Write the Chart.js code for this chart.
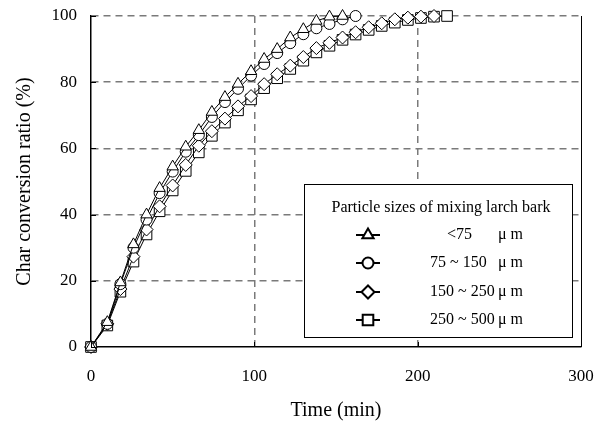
<!DOCTYPE html>
<html>
<head>
<meta charset="utf-8">
<script src="https://cdn.jsdelivr.net/npm/chart.js@4/dist/chart.umd.min.js"></script>
<style>
  html, body { margin: 0; padding: 0; background: #fff; }
  #wrap { width: 599px; height: 430px; position: relative; }
</style>
</head>
<body>
<div id="wrap"><canvas id="c" width="599" height="430"></canvas></div>
<script>
// ---- data ----
const times = [0,10,18,26,34,42,50,58,66,74,82,90,98,106,114,122,130,138,146,154,162,170,178,186,194,202,210,218];
const seriesLabels = ['<75', '75 ~ 150', '150 ~ 250', '250 ~ 500'];
const unitLabel = 'μ m';
const legendTitle = 'Particle sizes of mixing larch bark';
const below75 = [0,7.5,19.5,31,40,48,54.5,60.5,65.5,71,75.5,79.5,83.3,87,90,93.5,96,98.5,99.8,100];
const from75to150 = [0,7,19,30,38.5,46.5,53,59,64,69.5,74,78,82,85.5,88.8,91.8,94.5,96.3,97.6,99,100];
const from150to250 = [0,7,17.5,27.3,35.5,42.5,48.8,55,60.8,65.2,69,72.7,75.8,79.4,82.4,85,87.6,90.3,91.9,93.5,95.1,96.6,97.8,99,99.5,99.8,100];
const from250to500 = [0,6.5,16.7,25.8,34,41,47.3,53.2,58.8,63.8,67.8,71.5,74.8,78.2,81.2,84,86.5,89,91,92.8,94.4,95.8,97,98,98.8,99.4,99.8,100];
const xTicks = [0,100,200,300];
const yTicks = [0,20,40,60,80,100];

const FONT = "'Liberation Serif', 'Times New Roman', serif";
const pts = arr => arr.map((v, i) => ({x: times[i], y: v}));

const styles = [
  {pointStyle: 'triangle', radius: 6.5},
  {pointStyle: 'circle', radius: 5.5},
  {pointStyle: 'rectRot', radius: 6.5},
  {pointStyle: 'rect', radius: 7.5}
];
const values = [below75, from75to150, from150to250, from250to500];

const datasets = values.map((v, i) => ({
  label: seriesLabels[i],
  data: pts(v),
  borderColor: '#000',
  borderWidth: 1,
  backgroundColor: '#fff',
  pointStyle: styles[i].pointStyle,
  pointRadius: styles[i].radius,
  pointBorderWidth: 1,
  pointBorderColor: '#000',
  pointBackgroundColor: '#fff',
  tension: 0,
  fill: false,
  clip: false
}));

const legendPlugin = {
  id: 'boxLegend',
  afterDraw(chart) {
    const ctx = chart.ctx;
    const L = 304, T = 184, R = 572, B = 337;
    ctx.save();
    ctx.fillStyle = '#fff';
    ctx.fillRect(L, T, R - L, B - T);
    ctx.strokeStyle = '#000';
    ctx.lineWidth = 1;
    ctx.strokeRect(L + 0.5, T + 0.5, R - L, B - T);
    ctx.fillStyle = '#000';
    ctx.font = '16px ' + FONT;
    ctx.textBaseline = 'middle';
    ctx.textAlign = 'center';
    ctx.fillText(legendTitle, (L + R) / 2 + 3, 208);
    const rowsY = [235, 263, 292, 320];
    const mx = 368;
    chart.data.datasets.forEach((ds, i) => {
      const y = rowsY[i];
      ctx.strokeStyle = '#000';
      ctx.lineWidth = 2;
      ctx.beginPath();
      ctx.moveTo(mx - 12, y); ctx.lineTo(mx + 12, y);
      ctx.stroke();
      ctx.fillStyle = '#fff';
      ctx.strokeStyle = '#000';
      ctx.lineWidth = 2;
      Chart.helpers.drawPoint(ctx, {pointStyle: ds.pointStyle, radius: ds.pointRadius, rotation: 0, borderWidth: 2}, mx, y);
      ctx.fillStyle = '#000';
      ctx.textAlign = 'left';
      ctx.fillText(ds.label, i === 0 ? 447 : 430, y);
      ctx.fillText(unitLabel, 498, y);
    });
    ctx.restore();
  }
};

const innerTicks = {
  id: 'innerTicks',
  afterDatasetsDraw(chart) {
    const ctx = chart.ctx;
    const xs = chart.scales.x, ys = chart.scales.y;
    ctx.save();
    ctx.strokeStyle = '#000';
    ctx.lineWidth = 1;
    xTicks.forEach(t => {
      const px = Math.round(xs.getPixelForValue(t)) + 0.5;
      ctx.beginPath(); ctx.moveTo(px, ys.bottom); ctx.lineTo(px, ys.bottom - 5); ctx.stroke();
    });
    yTicks.forEach(t => {
      const py = Math.round(ys.getPixelForValue(t)) + 0.5;
      ctx.beginPath(); ctx.moveTo(xs.left, py); ctx.lineTo(xs.left + 5, py); ctx.stroke();
    });
    const rx = Math.round(xs.getPixelForValue(300)) + 0.5;
    ctx.beginPath(); ctx.moveTo(rx, ys.top); ctx.lineTo(rx, ys.bottom); ctx.stroke();
    ctx.restore();
  }
};

new Chart(document.getElementById('c'), {
  type: 'line',
  data: { datasets },
  options: {
    responsive: false,
    animation: false,
    devicePixelRatio: 1,
    layout: { padding: { left: 0, right: 18, top: 16, bottom: 0 } },
    plugins: { legend: { display: false }, tooltip: { enabled: false } },
    scales: {
      x: {
        type: 'linear', min: 0, max: 300,
        afterFit(s) { s.height = 83; s.paddingLeft = 0; s.paddingRight = 0; },
        afterBuildTicks(s) { s.ticks = xTicks.map(v => ({value: v})); },
        ticks: { color: '#000', font: { family: FONT, size: 17 }, padding: 19, maxRotation: 0 },
        grid: {
          drawTicks: false,
          color: ctx => (ctx.tick && (ctx.tick.value === 0 || ctx.tick.value === 300)) ? 'rgba(0,0,0,0)' : '#7a7a7a',
          lineWidth: 1.5
        },
        border: { display: true, color: '#000', width: 1.5, dash: ctx => ctx.type === 'tick' ? [7, 5] : [] },
        title: { display: true, text: 'Time (min)', color: '#000', font: { family: FONT, size: 20 }, padding: { top: 0, bottom: 7 } }
      },
      y: {
        type: 'linear', min: 0, max: 100,
        afterFit(s) { s.width = 91; s.paddingTop = 0; s.paddingBottom = 0; },
        afterBuildTicks(s) { s.ticks = yTicks.map(v => ({value: v})); },
        ticks: { color: '#000', font: { family: FONT, size: 17 }, padding: 14 },
        grid: {
          drawTicks: false,
          color: ctx => (ctx.tick && ctx.tick.value === 0) ? 'rgba(0,0,0,0)' : '#7a7a7a',
          lineWidth: 1.5
        },
        border: { display: true, color: '#000', width: 1.5, dash: ctx => ctx.type === 'tick' ? [7, 5] : [] },
        title: { display: true, text: 'Char conversion ratio (%)', color: '#000', font: { family: FONT, size: 20 }, padding: { top: 13, bottom: 0 } }
      }
    }
  },
  plugins: [innerTicks, legendPlugin]
});
</script>
</body>
</html>
